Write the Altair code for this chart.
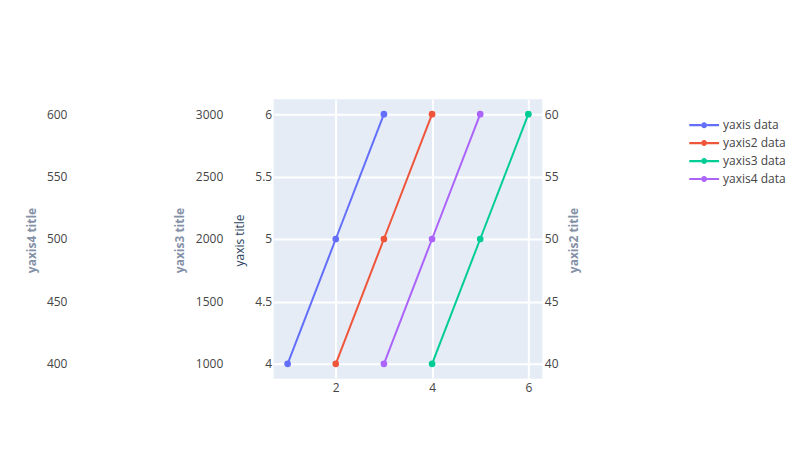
import altair as alt
import pandas as pd

series_names = ["yaxis data", "yaxis2 data", "yaxis3 data", "yaxis4 data"]
x1 = [1, 2, 3]
y1 = [4, 5, 6]
x2 = [2, 3, 4]
y2 = [40, 50, 60]
x3 = [4, 5, 6]
y3 = [1000, 2000, 3000]
x4 = [3, 4, 5]
y4 = [400, 500, 600]
colors = ["#636efa", "#EF553B", "#00cc96", "#ab63fa"]

FONT = "Open Sans"
W, H = 269, 280
XDOM = [0.71, 6.29]

def df(xs, ys, name):
    return pd.DataFrame({"x": xs, "y": ys, "series": name})

color = alt.Color(
    "series:N",
    scale=alt.Scale(domain=series_names, range=colors),
    legend=alt.Legend(
        title=None,
        orient="none",
        legendX=682 - 266,
        legendY=125 - 91 - 8 - 9,
        symbolType="M-1,-0.07H-0.2V0.07H-1Z M0.2,-0.07H1V0.07H0.2Z M0.2,0 A0.2,0.2 0 1,1 -0.2,0 A0.2,0.2 0 1,1 0.2,0Z",
        symbolSize=900,
        symbolStrokeWidth=0,
        labelFont=FONT,
        labelFontSize=12,
        labelColor="#444",
        rowPadding=0,
        symbolOffset=0,
        labelOffset=4,
        clipHeight=18,
    ),
)

xenc = alt.X(
    "x:Q",
    scale=alt.Scale(domain=XDOM, nice=False, zero=False),
    axis=alt.Axis(
        values=[2, 4, 6], title=None, grid=True, gridColor="white", gridWidth=2,
        domain=False, ticks=False, labelPadding=4, labelFont=FONT, labelFontSize=12,
        labelColor="#444",
    ),
)

def layer(data, ydom, vals, orient, offset, title, tcolor, tx, bold, grid=False, fmt="~g"):
    return alt.Chart(data).mark_line(
        strokeWidth=2,
        point=alt.OverlayMarkDef(filled=True, size=45, opacity=1),
    ).encode(
        x=xenc,
        y=alt.Y(
            "y:Q",
            scale=alt.Scale(domain=ydom, nice=False, zero=False),
            axis=alt.Axis(
                orient=orient, offset=offset, values=vals, format=fmt,
                title=title, titleColor=tcolor, titleFont=FONT, titleFontSize=12,
                titleFontWeight="bold" if bold else "normal",
                titleAngle=270, titleAlign="center", titleBaseline="middle",
                titleX=tx, titleY=141,
                grid=grid, gridColor="white", gridWidth=2,
                domain=False, ticks=False, labelPadding=2,
                labelFont=FONT, labelFontSize=12, labelColor="#444",
            ),
        ),
        color=color,
    )

l1 = layer(df(x1, y1, series_names[0]), [3.88, 6.12], [4, 4.5, 5, 5.5, 6],
           "left", 0, "yaxis title", "#2a3f5f", -34, False, grid=True)
l2 = layer(df(x2, y2, series_names[1]), [38.8, 61.2], [40, 45, 50, 55, 60],
           "right", 0, "yaxis2 title", "#8591a7", 31, True)
l3 = layer(df(x3, y3, series_names[2]), [880, 3120], [1000, 1500, 2000, 2500, 3000],
           "left", 49, "yaxis3 title", "#8591a7", -45, True, fmt="d")
l4 = layer(df(x4, y4, series_names[3]), [388, 612], [400, 450, 500, 550, 600],
           "left", 205, "yaxis4 title", "#8591a7", -37, True, fmt="d")

chart = alt.layer(l1, l2, l3, l4).resolve_scale(y="independent").properties(
    width=W,
    height=H,
    background="white",
    autosize=alt.AutoSizeParams(type="none"),
    padding={"left": 266, "top": 91, "right": 250, "bottom": 74},
).configure_view(fill="#e5ecf6", stroke=None)

chart.save("out.html", embed_options={"renderer": "svg", "actions": False})
